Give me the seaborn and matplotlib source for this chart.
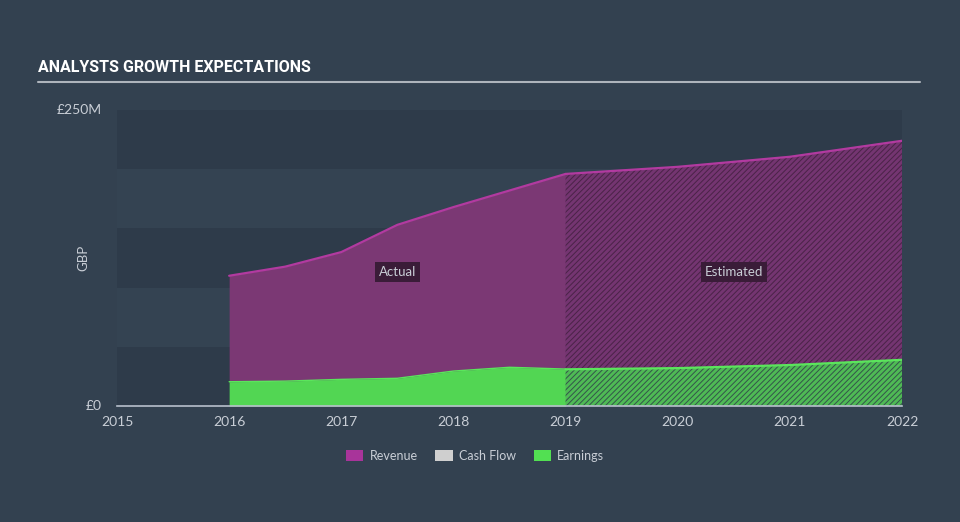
import matplotlib
matplotlib.use("Agg")
import matplotlib.pyplot as plt
from matplotlib.patches import Patch
from matplotlib.lines import Line2D
import seaborn as sns
import pandas as pd

# ---- data (GBP millions) ----
actual_years = [2016, 2016.5, 2017, 2017.5, 2018, 2018.5, 2019]
revenue_actual = [110, 117.7, 130, 153, 168, 182, 196]
earnings_actual = [20.5, 21, 22.5, 23.4, 29.5, 32.7, 31.2]

est_years = [2019, 2020, 2021, 2022]
revenue_est = [196, 202, 210.5, 224]
earnings_est = [31, 32, 34.6, 39]

x_ticks = [2015, 2016, 2017, 2018, 2019, 2020, 2021, 2022]
y_ticks = [0, 250]
y_tick_labels = ["£0", "£250M"]
legend_labels = ["Revenue", "Cash Flow", "Earnings"]

# ---- style ----
BG = "#334150"
BAND_DARK = "#2e3b4a"
BAND_LIGHT = "#344352"
REV_FILL = "#7b3874"
REV_LINE = "#b23aa0"
EARN_FILL = "#52d653"
EARN_LINE = "#5be55c"
TXT = "#c9ced6"
AXIS = "#b8c0cc"

sns.set_style("dark")
plt.rcParams["font.family"] = ["Lato", "DejaVu Sans"]
plt.rcParams["hatch.linewidth"] = 0.7

fig = plt.figure(figsize=(9.6, 5.22), dpi=100, facecolor=BG)
ax = fig.add_axes([117 / 960, 1 - 406 / 522, (902 - 117) / 960, (406 - 110) / 522])
ax.set_facecolor(BG)

# alternating bands
for i, lo in enumerate(range(0, 250, 50)):
    ax.axhspan(lo, lo + 50, color=BAND_DARK if i % 2 == 0 else BAND_LIGHT, lw=0, zorder=0)

df_a = pd.DataFrame({"year": actual_years, "revenue": revenue_actual, "earnings": earnings_actual})
df_e = pd.DataFrame({"year": est_years, "revenue": revenue_est, "earnings": earnings_est})

# actual fills
ax.fill_between(df_a["year"], df_a["earnings"], df_a["revenue"], color=REV_FILL, lw=0, zorder=2)
ax.fill_between(df_a["year"], 0, df_a["earnings"], color=EARN_FILL, lw=0, zorder=2)

# estimated fills (hatched)
ax.fill_between(df_e["year"], df_e["earnings"], df_e["revenue"], facecolor="#743571",
                edgecolor="#4a2347", hatch="//////", lw=0, zorder=2)
ax.fill_between(df_e["year"], 0, df_e["earnings"], facecolor="#4fba55",
                edgecolor="#33544a", hatch="//////", lw=0, zorder=2)

# lines
sns.lineplot(data=df_a, x="year", y="revenue", ax=ax, color=REV_LINE, lw=1.6, zorder=3)
sns.lineplot(data=df_e, x="year", y="revenue", ax=ax, color=REV_LINE, lw=1.6, zorder=3)
sns.lineplot(data=df_a, x="year", y="earnings", ax=ax, color=EARN_LINE, lw=1.0, zorder=3)
sns.lineplot(data=df_e, x="year", y="earnings", ax=ax, color=EARN_LINE, lw=1.6, zorder=3)

ax.set_xlim(2015, 2022)
ax.set_ylim(0, 250)
ax.set_xticks(x_ticks)
ax.set_xticklabels([str(t) for t in x_ticks])
ax.set_yticks(y_ticks)
ax.set_yticklabels(y_tick_labels)
ax.set_xlabel("")
ax.set_ylabel("")
ax.grid(False)

for s in ["top", "right", "left"]:
    ax.spines[s].set_visible(False)
ax.spines["bottom"].set_color(AXIS)
ax.spines["bottom"].set_linewidth(1.2)
ax.tick_params(axis="x", colors=TXT, labelsize=10, length=5, width=1.2, color=AXIS, pad=2, direction="out")
ax.tick_params(axis="y", colors=TXT, labelsize=10, length=0, pad=11)
for lbl in ax.get_yticklabels():
    lbl.set_verticalalignment("center")

fig.text(83 / 960, 1 - 258 / 522, "GBP", color=TXT, fontsize=9.5, rotation=90, ha="center", va="center")

# Actual / Estimated labels
box = dict(boxstyle="square,pad=0.3", fc="#3a1c38", ec="none")
ax.text(2017.5, 113, "Actual", color=TXT, fontsize=9.5, ha="center", va="center", bbox=box, zorder=5)
ax.text(2020.5, 113, "Estimated", color=TXT, fontsize=9.5, ha="center", va="center", bbox=box, zorder=5)

# title and underline
fig.text(38 / 960, 1 - 68 / 522, "ANALYSTS GROWTH EXPECTATIONS", color="white",
         fontsize=11.5, fontweight="bold", fontstretch="condensed",
         family=["Roboto", "DejaVu Sans"], ha="left", va="center")
fig.add_artist(Line2D([38 / 960, 920 / 960], [1 - 82 / 522] * 2, color="#aeb4bc", lw=1.5,
                      transform=fig.transFigure))

# legend
handles = [Patch(facecolor="#a8349a", edgecolor="none"),
           Patch(facecolor="#cfcfcf", edgecolor="none"),
           Patch(facecolor="#52e052", edgecolor="none")]
leg = fig.legend(handles, legend_labels, loc="center", bbox_to_anchor=(475 / 960, 1 - 456 / 522),
                 ncol=3, frameon=False, fontsize=9, handlelength=1.4, handleheight=1.0,
                 handletextpad=0.5, columnspacing=1.4)
for t in leg.get_texts():
    t.set_color(TXT)

fig.savefig("out.png", dpi=100, facecolor=BG)
